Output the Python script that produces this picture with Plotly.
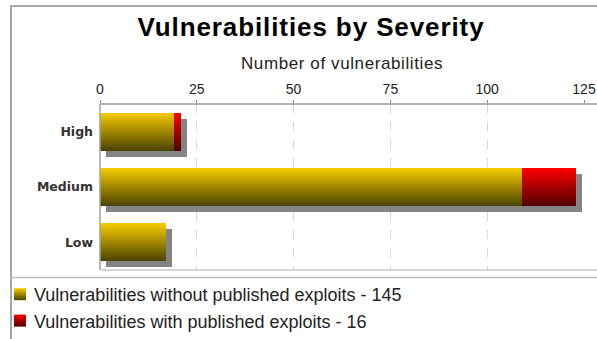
import plotly.graph_objects as go

# ---- data ----
severity = ["High", "Medium", "Low"]
without_exploits = [19, 109, 17]
with_exploits = [2, 14, 0]
series_names = [
    "Vulnerabilities without published exploits - 145",
    "Vulnerabilities with published exploits - 16",
]
x_ticks = [0, 25, 50, 75, 100, 125]

W, H = 597, 339
L, R, T, B = 100, 13, 104, 69
pw, ph = W - L - R, H - T - B


def px(x):
    return (x - L) / pw


def py(y):
    return (H - B - y) / ph


fig = go.Figure()
fig.add_trace(go.Bar(
    y=severity, x=without_exploits, orientation="h", legendgroup="a",
    name=series_names[0], marker=dict(color="#b89a00", line=dict(width=0)),
))
fig.add_trace(go.Bar(
    y=severity, x=with_exploits, orientation="h", legendgroup="b",
    name=series_names[1], marker=dict(color="#b00000", line=dict(width=0)),
))

line_col = "#a0a0a0"
shapes = [
    # outer border (left + top)
    dict(type="line", xref="paper", yref="paper", x0=px(11), x1=px(11), y0=py(5.5), y1=py(345),
         line=dict(color="#a8a8a8", width=2)),
    dict(type="line", xref="paper", yref="paper", x0=px(10), x1=px(605), y0=py(6), y1=py(6),
         line=dict(color="#a8a8a8", width=2)),
    # top axis line
    dict(type="line", xref="paper", yref="paper", x0=0, x1=px(605), y0=1, y1=1,
         line=dict(color="#999999", width=1.5)),
    # left axis line
    dict(type="line", xref="paper", yref="paper", x0=0, x1=0, y0=0, y1=1,
         line=dict(color=line_col, width=1.5)),
    # bottom plot line
    dict(type="line", xref="paper", yref="paper", x0=0, x1=px(605), y0=py(270), y1=py(270),
         line=dict(color="#c8c8c8", width=1.5)),
    # legend separator
    dict(type="line", xref="paper", yref="paper", x0=px(11), x1=px(605), y0=py(277.5), y1=py(277.5),
         line=dict(color="#c0c0c0", width=1.5)),
]

fig.update_layout(
    width=W, height=H,
    margin=dict(l=L, r=R, t=T, b=B, pad=0, autoexpand=False),
    paper_bgcolor="white", plot_bgcolor="white",
    barmode="stack", bargap=0.31,
    title=dict(text="<b>Vulnerabilities by Severity</b>", x=311 / W, xanchor="center",
               y=1 - 27 / H, yanchor="middle",
               font=dict(family="Liberation Sans, Arial", size=26, color="black")),
    xaxis=dict(
        side="top", range=[0, 125], tickvals=x_ticks, ticktext=[str(v) for v in x_ticks],
        showgrid=True, gridcolor="#d6d6d6", griddash="dash", gridwidth=1,
        zeroline=False, showline=False, automargin=False,
        ticks="outside", ticklen=3, tickcolor="#888888",
        tickfont=dict(family="Liberation Sans, Arial", size=14, color="#222"),
        title=dict(text="Number of vulnerabilities", standoff=7,
                   font=dict(family="Liberation Sans, Arial", size=17, color="#222")),
    ),
    yaxis=dict(
        autorange="reversed", showgrid=False, zeroline=False, showline=False,
        ticks="", ticklabelstandoff=6, automargin=False,
        tickfont=dict(family="DejaVu Sans", size=12.5, color="#333"),
        tickprefix="<b>", ticksuffix="</b>",
    ),
    showlegend=True,
    legend=dict(
        x=px(0), y=py(276), xanchor="left", yanchor="top",
        orientation="v", bgcolor="rgba(0,0,0,0)",
        font=dict(family="Liberation Sans, Arial", size=18, color="#222"),
        itemwidth=30, tracegroupgap=11, traceorder="normal",
    ),
    shapes=shapes,
)

post = r"""
var gd = document.getElementById('{plot_id}');
function mk(svg){
  var NS='http://www.w3.org/2000/svg';
  var defs = svg.querySelector('defs');
  if(!defs){defs=document.createElementNS(NS,'defs'); svg.insertBefore(defs, svg.firstChild);}
  if(svg.querySelector('#gy')) return;
  var specs=[['gy','#f7cc00','#4a4200'],['gr','#ff0000','#500000']];
  specs.forEach(function(s){
    var g=document.createElementNS(NS,'linearGradient');
    g.setAttribute('id',s[0]); g.setAttribute('x1','0'); g.setAttribute('y1','0');
    g.setAttribute('x2','0'); g.setAttribute('y2','1');
    [[0,s[1]],[1,s[2]]].forEach(function(st){
      var e=document.createElementNS(NS,'stop');
      e.setAttribute('offset',st[0]); e.setAttribute('stop-color',st[1]); g.appendChild(e);
    });
    defs.appendChild(g);
  });
  var f=document.createElementNS(NS,'filter');
  f.setAttribute('id','shd'); f.setAttribute('x','-10%'); f.setAttribute('y','-20%');
  f.setAttribute('width','130%'); f.setAttribute('height','160%');
  var d=document.createElementNS(NS,'feDropShadow');
  d.setAttribute('dx','6'); d.setAttribute('dy','6'); d.setAttribute('stdDeviation','0.7');
  d.setAttribute('flood-color','#777777'); d.setAttribute('flood-opacity','0.9');
  f.appendChild(d); defs.appendChild(f);
}
function apply(){
  var svg = gd.querySelector('svg.main-svg');
  mk(svg);
  var ids=['gy','gr'];
  gd.querySelectorAll('.barlayer .trace').forEach(function(tr,i){
    tr.querySelectorAll('path').forEach(function(p){ p.style.fill='url(#'+ids[i%2]+')'; });
  });
  var bl = gd.querySelector('.barlayer');
  if(bl) bl.setAttribute('filter','url(#shd)');
  gd.querySelectorAll('.legend .traces').forEach(function(tr,i){
    tr.querySelectorAll('.legendpoints path').forEach(function(p){
      p.style.fill='url(#'+ids[i%2]+')'; p.style.stroke='none';
    });
    tr.querySelectorAll('text.legendtext').forEach(function(t){
      if(!t.dataset.sh){ t.setAttribute('x', parseFloat(t.getAttribute('x'))-6); t.dataset.sh='1'; }
    });
  });
  var tt = gd.querySelector('.gtitle');
  if(tt) tt.style.letterSpacing='0.9px';
  var xt = gd.querySelector('.g-xtitle text');
  if(xt) xt.style.letterSpacing='0.6px';
}
apply();
gd.on('plotly_afterplot', apply);
"""

fig.write_html("out.html", post_script=post)
